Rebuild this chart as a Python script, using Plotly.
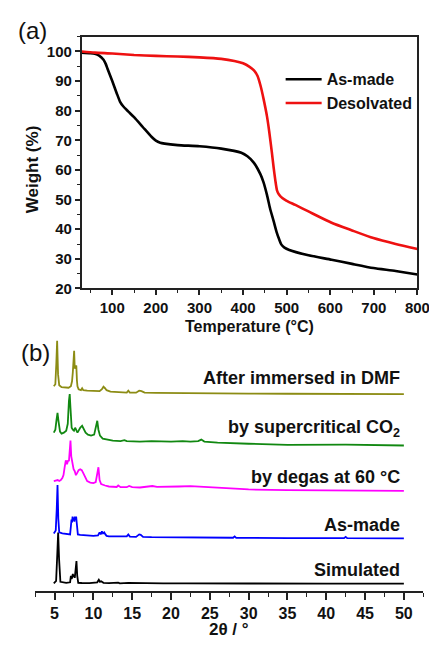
import plotly.graph_objects as go

# ---------------- (a) TGA data ----------------
tga_temp_asmade = [30, 50, 60, 70, 80, 85, 90, 100, 110, 118, 125, 137, 150, 170, 190, 200, 210, 220,
                   250, 300, 350, 396, 410, 425, 440, 447, 455, 462, 470, 477, 483, 488, 495, 506,
                   550, 603, 650, 699, 750, 800]
tga_w_asmade = [99.6, 99.4, 99.2, 98.6, 97.2, 95.8, 93.8, 90.0, 86.0, 83.0, 81.5, 79.7, 77.8, 74.5,
                71.2, 69.9, 69.2, 68.9, 68.4, 68.0, 67.2, 65.8, 64.6, 62.4, 58.5, 55.8, 51.5, 47.0,
                42.8, 39.0, 36.5, 34.8, 33.8, 33.0, 31.2, 29.7, 28.3, 26.9, 25.9, 24.7]

tga_temp_desolv = [30, 60, 100, 150, 200, 250, 300, 350, 380, 400, 415, 425, 433, 440, 447, 455,
                   460, 466, 470, 474, 478, 482, 490, 500, 520, 550, 603, 650, 699, 750, 800]
tga_w_desolv = [100.0, 99.6, 99.3, 98.8, 98.5, 98.3, 98.0, 97.5, 96.8, 96.0, 94.8, 93.6, 91.8, 88.5,
                84.0, 78.0, 73.0, 66.0, 61.0, 56.5, 53.0, 51.8, 50.5, 49.6, 48.2, 46.0, 42.2,
                39.6, 37.0, 35.0, 33.3]

tga_xticks = [100, 200, 300, 400, 500, 600, 700, 800]
tga_yticks = [20, 30, 40, 50, 60, 70, 80, 90, 100]

# ---------------- (b) PXRD data ----------------
sim_x = [4.9, 5.2, 5.35, 5.46, 5.58, 5.75, 6.5, 7.0, 7.1, 7.18, 7.25, 7.35, 7.42, 7.5, 7.6, 7.72,
         7.82, 7.92, 8.05, 8.5, 9.5, 10.5, 10.7, 10.85, 11.0, 11.3, 12.0, 13.2, 13.4, 14.5, 15.5,
         16.0, 17.0, 17.2, 19.0, 22.0, 25.0, 30.0, 40.0, 50.0]
sim_y = [0.5, 3, 30, 52, 25, 2, 1, 1.5, 8, 5, 6, 10, 7, 9, 6, 15, 23, 8, 1, 0.8, 0.6, 1.5, 4, 2,
         2.5, 1, 0.6, 1.2, 0.5, 1, 0.8, 1.3, 0.5, 1.2, 0.4, 0.5, 0.3, 0.3, 0.2, 0.2]

asm_x = [4.9, 5.15, 5.28, 5.38, 5.48, 5.6, 6.0, 6.5, 7.0, 7.1, 7.18, 7.25, 7.32, 7.4, 7.48, 7.55,
         7.62, 7.7, 7.78, 7.85, 7.92, 8.0, 8.3, 9.0, 10.0, 10.6, 10.8, 10.95, 11.1, 11.25, 11.4,
         11.55, 11.7, 12.0, 13.0, 14.3, 14.5, 14.7, 15.5, 15.9, 16.1, 16.4, 17.5, 20, 24, 28.0,
         28.2, 28.4, 35, 42.3, 42.5, 42.7, 50]
asm_y = [5, 8, 30, 54, 20, 6, 5, 4.5, 4, 12, 19, 16, 22, 18, 21, 17, 22, 19, 22, 16, 8, 4, 3.5, 3,
         2.5, 3, 6, 4, 7, 5, 6, 4, 2.5, 2, 1.8, 2, 4, 1.8, 1.5, 4, 3.5, 1.5, 1.2, 1, 0.8, 0.6, 2,
         0.5, 0.3, 0.2, 1.5, 0.2, 0]

deg_x = [4.9, 5.2, 5.4, 5.6, 5.8, 6.0, 6.15, 6.3, 6.45, 6.6, 6.75, 6.85, 6.95, 7.05, 7.15, 7.3,
         7.45, 7.6, 7.75, 7.9, 8.1, 8.3, 8.5, 8.7, 8.9, 9.2, 9.6, 10.0, 10.3, 10.5, 10.65, 10.8,
         11.0, 11.5, 12.0, 13.0, 13.2, 13.5, 14.3, 14.6, 15.0, 16.0, 17.2, 17.6, 18.2, 19.5,
         21.0, 22.5, 24.0, 26.0, 30.0, 35.0, 40.0, 42.5, 45.0, 50.0]
deg_y = [10, 10.5, 11, 10, 11, 13, 16, 24, 31, 27, 31, 30, 42, 51, 35, 28, 22, 20, 16, 18, 21, 22,
         21, 18, 14, 10, 8.5, 8, 9, 17, 24, 11, 7, 5.5, 4.5, 4, 5.5, 3.8, 3.8, 5, 3.8, 3.5, 4.5,
         5, 4.2, 4, 4.5, 4.8, 4, 3, 1.5, 0.8, 0.4, 0.9, 0.2, 0]

co2_x = [4.9, 5.1, 5.25, 5.38, 5.5, 5.7, 5.9, 6.2, 6.5, 6.7, 6.85, 6.95, 7.05, 7.2, 7.35, 7.5,
         7.65, 7.8, 7.95, 8.1, 8.3, 8.55, 8.75, 9.0, 9.3, 9.7, 10.1, 10.35, 10.5, 10.65, 10.85,
         11.2, 11.8, 12.5, 13.5, 14.0, 14.3, 15.0, 16.0, 17.5, 18.5, 20.0, 21.5, 22.5, 23.5,
         23.9, 24.3, 26.0, 30.0, 35.0, 42.5, 50.0]
co2_y = [13, 16, 26, 33, 25, 14, 12, 13, 15, 22, 45, 52, 38, 18, 16, 15, 18, 15, 13, 15, 18, 20,
         17, 13, 11, 10, 11, 18, 25, 16, 10, 7, 6, 5, 4.5, 5.5, 4.5, 4, 4, 4.5, 4, 4, 4.5, 4,
         4.5, 6, 4, 3, 1.8, 0.6, 0.8, 0]

dmf_x = [4.9, 5.1, 5.22, 5.33, 5.45, 5.6, 5.9, 6.3, 6.8, 7.1, 7.25, 7.35, 7.45, 7.52, 7.6, 7.7,
         7.8, 7.88, 7.95, 8.1, 8.4, 8.55, 8.7, 9.2, 10.0, 10.8, 11.1, 11.3, 11.5, 11.7, 12.2,
         13.0, 14.3, 14.5, 14.7, 15.5, 15.9, 16.2, 16.6, 18, 20, 22, 25, 28, 30, 35, 40, 42.5,
         45, 50]
dmf_y = [8, 10, 30, 54, 20, 9, 7, 6.5, 6.5, 8, 13, 22, 40, 44, 26, 28, 29, 14, 8, 5, 4, 6, 4,
         3.5, 3, 3, 5, 7.5, 6, 4, 2.5, 2, 1.5, 3.5, 1.5, 1.5, 3.5, 3, 1.5, 1.2, 1, 1, 0.8, 0.6,
         0.5, 0.4, 0.3, 0.8, 0.2, 0]

xrd_xticks = [5, 10, 15, 20, 25, 30, 35, 40, 45, 50]

xrd_names = ["Simulated", "As-made", "by degas at 60 °C", "by supercritical CO<sub>2</sub>",
             "After immersed in DMF"]
xrd_offsets = [7, 53, 101, 147, 199]
xrd_label_y = [21, 67, 115, 164, 215]
xrd_colors = ["#000000", "#0000ff", "#ff00ff", "#118811", "#8c8c14"]
xrd_x = [sim_x, asm_x, deg_x, co2_x, dmf_x]
xrd_y = [sim_y, asm_y, deg_y, co2_y, dmf_y]

W, H = 437, 645
FONT = "Liberation Sans, Arial, sans-serif"

fig = go.Figure()

fig.add_trace(go.Scatter(x=tga_temp_asmade, y=tga_w_asmade, mode="lines", name="<b>As-made</b>",
                         line=dict(color="#000000", width=2.6, shape="spline", smoothing=0.6),
                         xaxis="x", yaxis="y"))
fig.add_trace(go.Scatter(x=tga_temp_desolv, y=tga_w_desolv, mode="lines", name="<b>Desolvated</b>",
                         line=dict(color="#ee1111", width=2.6, shape="spline", smoothing=0.6),
                         xaxis="x", yaxis="y"))

for xs, ys, off, col, nm in zip(xrd_x, xrd_y, xrd_offsets, xrd_colors, xrd_names):
    fig.add_trace(go.Scatter(x=xs, y=[off + v for v in ys], mode="lines", showlegend=False,
                             line=dict(color=col, width=1.8), xaxis="x2", yaxis="y2"))

annotations = []
for nm, ly in zip(xrd_names, xrd_label_y):
    annotations.append(dict(x=49.8, y=ly, xref="x2", yref="y2", text="<b>" + nm + "</b>",
                            showarrow=False, xanchor="right", yanchor="middle",
                            font=dict(family=FONT, size=18, color="#111")))


def px(xp):
    return xp / W


def py(yp):
    return 1 - yp / H


annotations += [
    dict(x=px(25), y=py(23), xref="paper", yref="paper", text="(a)", showarrow=False,
         xanchor="center", yanchor="middle", font=dict(family=FONT, size=24, color="#111")),
    dict(x=px(28), y=py(349), xref="paper", yref="paper", text="(b)", showarrow=False,
         xanchor="center", yanchor="middle", font=dict(family=FONT, size=24, color="#111")),
    dict(x=px(249), y=py(323), xref="paper", yref="paper", text="<b>Temperature (°C)</b>",
         showarrow=False, xanchor="center", yanchor="middle",
         font=dict(family=FONT, size=16, color="#111")),
    dict(x=px(26), y=py(163), xref="paper", yref="paper", text="<b>Weight (%)</b>", textangle=-90,
         showarrow=False, xanchor="center", yanchor="middle",
         font=dict(family=FONT, size=17, color="#111")),
    dict(x=px(228), y=py(629), xref="paper", yref="paper", text="<b>2θ / °</b>",
         showarrow=False, xanchor="center", yanchor="middle",
         font=dict(family=FONT, size=17, color="#111")),
]

tickfont = dict(family=FONT, size=15, color="#111")


def bold(vals):
    return ["<b>%d</b>" % v for v in vals]


fig.update_layout(
    width=W, height=H, margin=dict(l=0, r=0, t=0, b=0),
    paper_bgcolor="white", plot_bgcolor="white",
    showlegend=True,
    legend=dict(x=px(281), y=py(55), xanchor="left", yanchor="top", bgcolor="rgba(0,0,0,0)",
                font=dict(family=FONT, size=16, color="#111"),
                tracegroupgap=0, itemwidth=36),
    xaxis=dict(domain=[px(76), px(422)], range=[30, 800],
               tickvals=tga_xticks, ticktext=bold(tga_xticks),
               showline=True, linecolor="#222", linewidth=1.8, mirror=True,
               ticks="outside", ticklen=5, tickwidth=1.5, tickcolor="#222",
               minor=dict(dtick=50, tick0=0, ticks="outside", ticklen=3, tickwidth=1.2,
                          tickcolor="#222"),
               showgrid=False, zeroline=False, tickfont=tickfont, anchor="y"),
    yaxis=dict(domain=[py(284), py(29)], range=[20, 105],
               tickvals=tga_yticks, ticktext=bold(tga_yticks),
               showline=True, linecolor="#222", linewidth=1.8, mirror=True,
               ticks="outside", ticklen=5, tickwidth=1.5, tickcolor="#222",
               minor=dict(dtick=5, tick0=0, ticks="outside", ticklen=3, tickwidth=1.2,
                          tickcolor="#222"),
               showgrid=False, zeroline=False, tickfont=tickfont, anchor="x"),
    xaxis2=dict(domain=[px(28), px(428)], range=[2.5, 52.5],
                tickvals=xrd_xticks, ticktext=bold(xrd_xticks),
                showline=True, linecolor="#222", linewidth=1.8,
                ticks="outside", ticklen=7, tickwidth=1.5, tickcolor="#222",
                minor=dict(dtick=2.5, tick0=0, ticks="outside", ticklen=4, tickwidth=1.2,
                           tickcolor="#222"),
                showgrid=False, zeroline=False, tickfont=dict(family=FONT, size=16, color="#111"),
                anchor="y2"),
    yaxis2=dict(domain=[py(590), py(330)], range=[0, 260], visible=False, anchor="x2"),
    annotations=annotations,
)

fig.write_html("out.html")
